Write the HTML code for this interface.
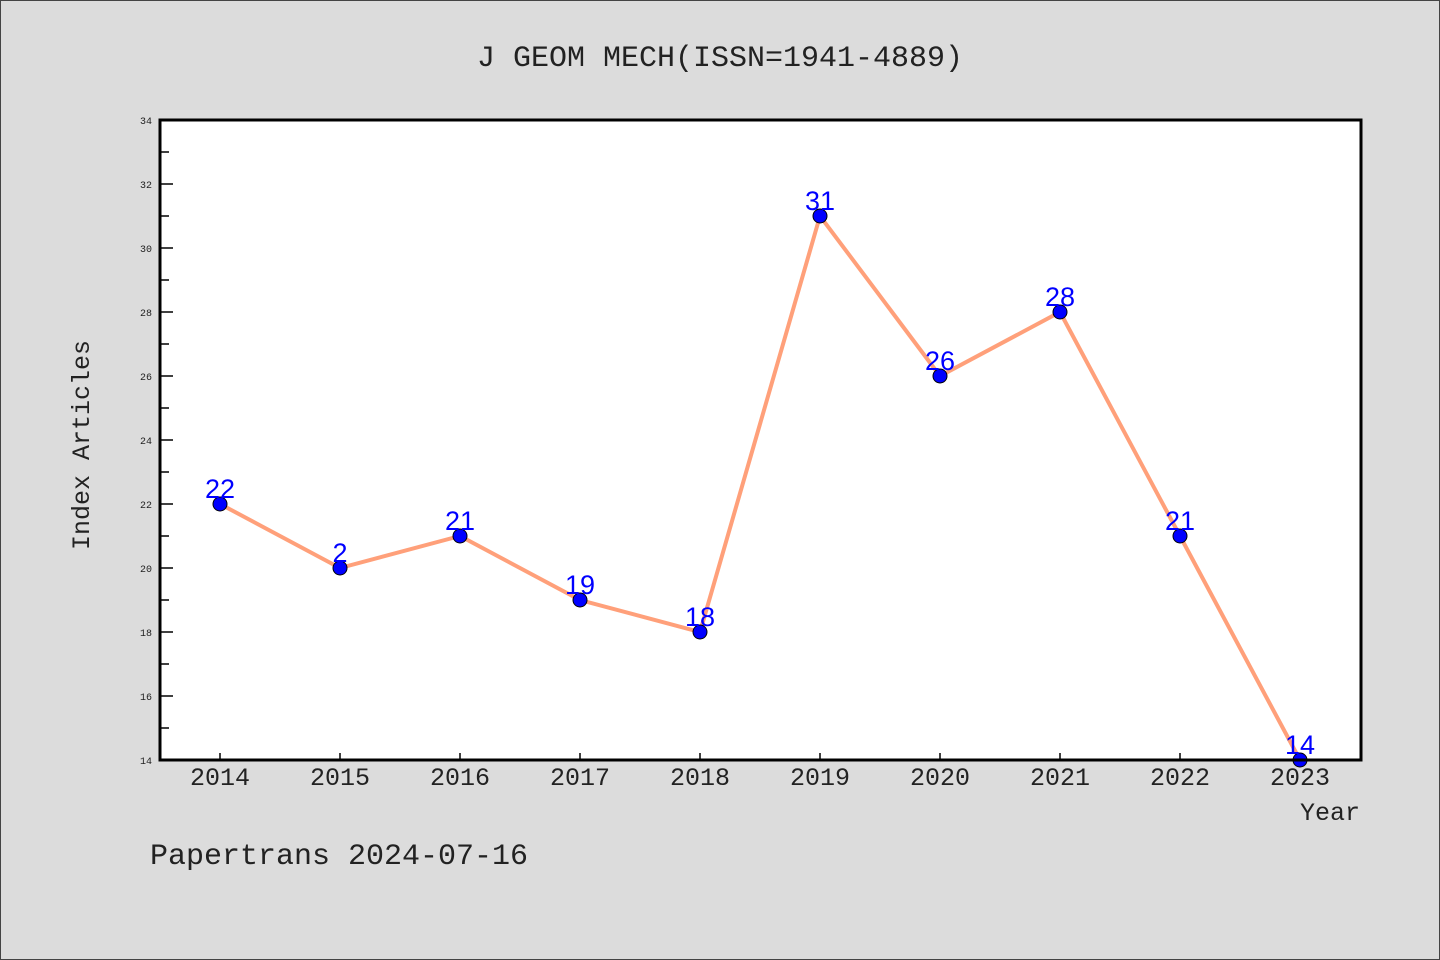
<!DOCTYPE html>
<html><head><meta charset="utf-8"><style>
body{margin:0;background:#dcdcdc;}
svg{display:block;font-family:"Liberation Mono","DejaVu Sans Mono",monospace;}
</style></head><body>
<svg id="chart" width="1440" height="960" xmlns="http://www.w3.org/2000/svg">
<rect x="0.5" y="0.5" width="1439" height="959" fill="#dcdcdc" stroke="#444"/>
<text x="720" y="66" text-anchor="middle" font-size="30" fill="#222">J GEOM MECH(ISSN=1941-4889)</text>
<rect x="160" y="120" width="1201" height="640" fill="#fff"/>
<g id="yaxis"></g><g id="xaxis"></g><g id="series"></g>
<rect x="160" y="120" width="1201" height="640" fill="none" stroke="#000" stroke-width="3"/>
<text transform="translate(89,445) rotate(-90)" text-anchor="middle" font-size="25" fill="#222">Index Articles</text>
<text x="1360" y="820" text-anchor="end" font-size="25" fill="#222">Year</text>
<text x="150" y="864" font-size="30" fill="#222">Papertrans 2024-07-16</text>
</svg>
<script>
const years=["2014","2015","2016","2017","2018","2019","2020","2021","2022","2023"];
const values=[22,20,21,19,18,31,26,28,21,14];
const labels=["22","2","21","19","18","31","26","28","21","14"];
const yTicks=[14,16,18,20,22,24,26,28,30,32,34];
const NS="http://www.w3.org/2000/svg";
const x0=160,x1=1361,y0=760,y1=120,yMin=14,yMax=34;
const xs=i=>220+i*120;
const ys=v=>y0-(v-yMin)/(yMax-yMin)*(y0-y1);
function mk(t,a,p){const e=document.createElementNS(NS,t);for(const k in a)e.setAttribute(k,a[k]);p.appendChild(e);return e;}
const ya=document.getElementById('yaxis'),xa=document.getElementById('xaxis'),se=document.getElementById('series');
yTicks.forEach((v,i)=>{
 const l=mk('line',{x1:x0,x2:x0+13,y1:ys(v),y2:ys(v),stroke:'#000','stroke-width':1.5},ya);
 
 
 if(i<yTicks.length-1){const m=mk('line',{x1:x0,x2:x0+9,y1:ys(v+1),y2:ys(v+1),stroke:'#000','stroke-width':1.5},ya);
 
 }
 const t=mk('text',{x:x0-8,y:ys(v)+4,'text-anchor':'end','font-size':10,fill:'#222'},ya);
 
 
 t.textContent=v;
});
years.forEach((y,i)=>{
 const l=mk('line',{x1:xs(i),x2:xs(i),y1:y0,y2:y0-7,stroke:'#000','stroke-width':1.5},xa);
 
 
 const t=mk('text',{x:xs(i),y:785,'text-anchor':'middle','font-size':25,fill:'#222'},xa);
 
 
 t.textContent=y;
});
const pl=mk('polyline',{points:values.map((v,i)=>xs(i)+','+ys(v)).join(' '),fill:'none',stroke:'#ffa07a','stroke-width':4},se);


values.forEach((v,i)=>{
 const c=mk('circle',{cx:xs(i),cy:ys(v),r:7,fill:'#0000ff',stroke:'#000','stroke-width':1},se);
 
 
 const t=mk('text',{x:xs(i),y:ys(v)-6,'text-anchor':'middle','font-size':27,fill:'#0000ff','font-family':'Liberation Sans, sans-serif'},se);
 
 
 t.textContent=labels[i];
});
</script>
</body></html>
